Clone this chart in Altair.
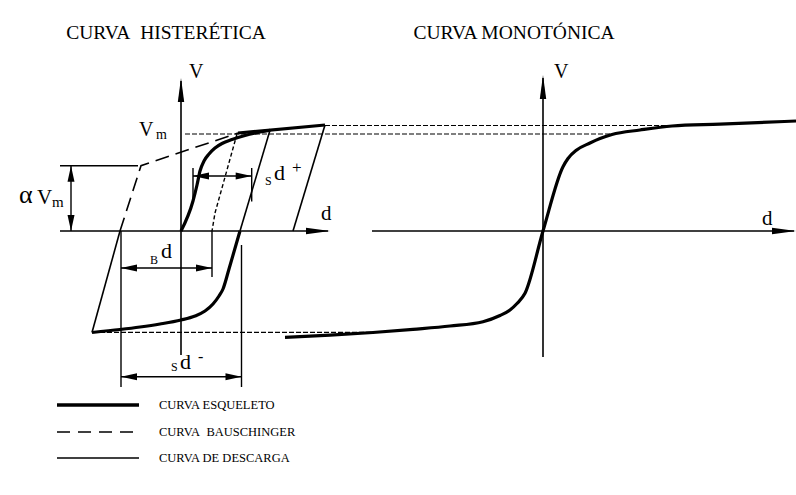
import altair as alt
import pandas as pd

FONT = "Liberation Serif"

# ---------------------------------------------------------------------------
# Diagram coordinates: x runs left to right, v is the force level (v = 0 on
# the d axes, positive upwards).
# ---------------------------------------------------------------------------

# Hysteretic loop (left panel)
skeleton_pos = [(181, 0), (193, 30), (197, 46), (200, 60), (204, 70), (209, 77),
                (215, 83), (222, 87.5), (232, 91.5), (245, 95.5), (258, 98.5), (270, 100.8)]
skeleton_hard = [(238, 98), (325, 106)]
skeleton_neg = [(92, -101.5), (120, -98.5), (140, -96), (160, -93), (181, -89),
                (195, -85), (205, -80), (213, -73), (219, -65), (223, -58),
                (229, -38), (240, 0)]
unload_1 = [(325, 106), (293, 0)]
unload_2 = [(270, 100.8), (240, 0)]
unload_3 = [(92, -101.5), (120, 0)]
bauschinger = [(120, 0), (141, 65.3), (238, 98)]
bauschinger_inner = [(237, 97), (215, 18), (212, 0)]

# Monotonic curve (right panel)
monotonic = [(285, -106.3), (330, -104.2), (373, -101.5), (413, -98.3), (450, -95),
             (483, -90.7), (500, -84.5), (510, -79), (517, -72.5), (525, -62.3),
             (543, 0), (563, 64.3), (568, 72.5), (576.7, 81), (590, 88),
             (600, 92.5), (612, 96.5), (640, 101), (672, 105), (720, 106.8), (796, 110)]

# Level references carried across both panels
level_vm = [(185, 97), (612, 97)]
level_peak = [(325, 105.5), (672, 105.5)]
level_min = [(100, -101.3), (373, -101.3)]

# Coordinate axes
axis_left_d = [(60, 0), (328, 0)]
axis_left_v = [(181, -124), (181, 150)]
axis_right_d = [(372, 0), (794, 0)]
axis_right_v = [(543, -126), (543, 153)]

# Dimension lines
alpha_top = [(60, 65.3), (138, 65.3)]
alpha_dim = [(71, 0), (71, 65.3)]
bd_dim = [(121, -37), (212, -37)]
bd_ext = [(212, 0), (212, -46)]
left_ext = [(121, 0), (121, -156)]
sdm_ext = [(241.5, -14), (241.5, -156)]
sdm_dim = [(121, -145.7), (241.5, -145.7)]
sdp_ext_a = [(193, 63), (193, 31)]
sdp_ext_b = [(251.7, 63), (251.7, 29.5)]
sdp_dim = [(193, 55), (251.7, 55)]

# Legend samples
legend_skeleton = [(57, -174), (139, -174)]
legend_bausch = [(57, -201), (139, -201)]
legend_unload = [(57, -227), (139, -227)]

# Arrow tips: (x, v, direction in degrees, clockwise from pointing right)
axis_tips = [(330, 0, 0), (796, 0, 0), (181, 153, 270), (543, 156, 270)]
dim_tips = [(71, 65.3, 270), (71, 0, 90), (121, -37, 180), (212, -37, 0),
            (121, -145.7, 180), (241.5, -145.7, 0), (193, 55, 180), (251.7, 55, 0)]

# Text: (label, x, v, font size)
titles = [("CURVA\u00a0 HISTERÉTICA", 166, 198, 19.5), ("CURVA MONOTÓNICA", 514, 198, 19.5)]
labels = [
    ("V", 189, 153, 20), ("V", 554, 153, 20),
    ("d", 321, 11, 21), ("d", 762, 6, 21),
    ("V", 139, 95, 20), ("m", 156, 92, 14),
    ("α", 19, 28, 26), ("V", 37, 27, 21), ("m", 52, 24, 15),
    ("B", 150, -33, 12), ("d", 161, -27, 22),
    ("S", 265, 46, 12), ("d", 274, 51, 22), ("+", 292, 58, 17),
    ("S", 171, -140, 12), ("d", 180, -138, 22), ("-", 198, -131, 16),
]
legend_labels = [("CURVA ESQUELETO", 159, -174, 12.5), ("CURVA\u00a0 BAUSCHINGER", 159, -201, 12.5),
                 ("CURVA DE DESCARGA", 159, -227, 12.5)]

# ---------------------------------------------------------------------------
XS = alt.Scale(domain=[0, 796], nice=False, zero=False)
YS = alt.Scale(domain=[-264, 231], nice=False, zero=False)
X = alt.X("x:Q", scale=XS, axis=None)
Y = alt.Y("v:Q", scale=YS, axis=None)


def poly_frame(named):
    rows = []
    for name, pts in named.items():
        for i, (x, v) in enumerate(pts):
            rows.append({"seg": name, "i": i, "x": x, "v": v})
    return pd.DataFrame(rows)


def lines(named, width, dash=None, interp="linear"):
    kw = dict(color="black", strokeWidth=width, interpolate=interp, strokeCap="butt")
    if dash:
        kw["strokeDash"] = dash
    return alt.Chart(poly_frame(named)).mark_line(**kw).encode(
        x=X, y=Y, detail="seg:N", order="i:Q")


def tips(items, path, size):
    df = pd.DataFrame(items, columns=["x", "v", "angle"])
    return alt.Chart(df).mark_point(shape=path, size=size, filled=True, color="black",
                                    opacity=1, strokeWidth=0).encode(
        x=X, y=Y, angle=alt.Angle("angle:Q", scale=None))


def texts(items, align="left", baseline="alphabetic"):
    df = pd.DataFrame(items, columns=["text", "x", "v", "size"])
    return alt.Chart(df).mark_text(font=FONT, align=align, baseline=baseline,
                                   color="black").encode(
        x=X, y=Y, text="text:N", size=alt.Size("size:Q", scale=None, legend=None))


layers = [
    lines({"vm": level_vm, "peak": level_peak, "min": level_min}, 1.2, dash=[5, 2]),
    lines({"ld": axis_left_d, "lv": axis_left_v, "rd": axis_right_d, "rv": axis_right_v}, 1.6),
    lines({"at": alpha_top, "ad": alpha_dim, "bd": bd_dim, "be": bd_ext, "le": left_ext,
           "se": sdm_ext, "sd": sdm_dim, "pa": sdp_ext_a, "pb": sdp_ext_b, "pd": sdp_dim}, 1.4),
    lines({"u1": unload_1, "u2": unload_2, "u3": unload_3}, 1.6),
    lines({"b": bauschinger}, 1.6, dash=[14, 7]),
    lines({"bi": bauschinger_inner}, 1.4, dash=[4, 2.5]),
    lines({"sp": skeleton_pos}, 3.2, interp="monotone"),
    lines({"sh": skeleton_hard}, 3.2),
    lines({"sn": skeleton_neg}, 3.2, interp="monotone"),
    lines({"mo": monotonic}, 3.2, interp="monotone"),
    lines({"l1": legend_skeleton}, 3.6),
    lines({"l2": legend_bausch}, 1.6, dash=[13, 8]),
    lines({"l3": legend_unload}, 1.6),
    tips(axis_tips, "M0,0 L-2.4,-0.32 L-2.4,0.32 Z", 400),
    tips(dim_tips, "M0,0 L-1.6,-0.35 L-1.6,0.35 Z", 400),
    texts(titles, align="center", baseline="middle"),
    texts(labels),
    texts(legend_labels, baseline="middle"),
]

chart = alt.layer(*layers).properties(
    width=796, height=495, autosize=alt.AutoSizeParams(type="none"), padding=0,
    background="white",
).configure_view(stroke=None)

chart.save("out.html", embed_options={"renderer": "svg", "actions": False})
